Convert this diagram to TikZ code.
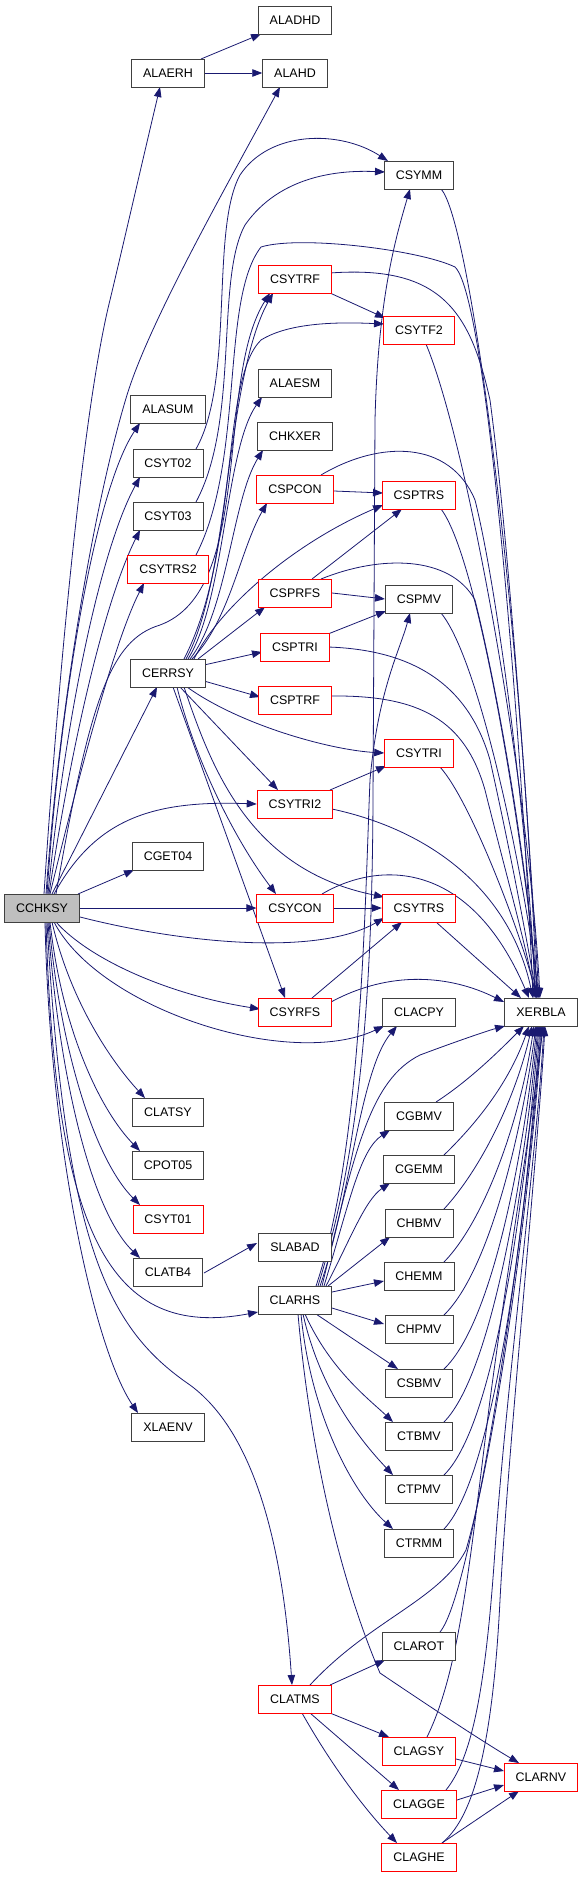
\documentclass[tikz,border=0pt]{standalone}
\usepackage{fontspec}
\setmainfont{Liberation Sans}
\usetikzlibrary{arrows.meta,calc}
\pgfdeclarelayer{bg}
\pgfsetlayers{bg,main}
\definecolor{edgec}{HTML}{191970}
\definecolor{boxc}{HTML}{404040}
\definecolor{grayf}{HTML}{BFBFBF}
\tikzset{
  box/.style={draw=boxc, line width=0.9bp, fill=white, minimum height=28bp, inner xsep=11.5bp, inner ysep=0pt, font=\fontsize{12.5}{14}\selectfont},
  rbox/.style={box, draw=red},
  e/.style={draw=edgec, line width=0.8bp, -{Triangle[length=10bp,width=7.5bp]}}
}
\begin{document}
\begin{tikzpicture}[x=1bp,y=-1bp]
\useasboundingbox (0,0) rectangle (584,1877);
% nodes
\node[box] (ALADHD) at (295,20) {ALADHD};
\node[box] (ALAERH) at (168,73) {ALAERH};
\node[box] (ALAHD) at (295,73) {ALAHD};
\node[box] (CSYMM) at (419,175) {CSYMM};
\node[rbox] (CSYTRF) at (295,279) {CSYTRF};
\node[rbox] (CSYTF2) at (419,330) {CSYTF2};
\node[box] (ALAESM) at (295,383) {ALAESM};
\node[box] (ALASUM) at (168,409) {ALASUM};
\node[box] (CHKXER) at (295,436) {CHKXER};
\node[box] (CSYT02) at (168,463) {CSYT02};
\node[rbox] (CSPCON) at (295,489) {CSPCON};
\node[rbox] (CSPTRS) at (419,495) {CSPTRS};
\node[box] (CSYT03) at (168,516) {CSYT03};
\node[rbox] (CSYTRS2) at (168,569) {CSYTRS2};
\node[rbox] (CSPRFS) at (295,593) {CSPRFS};
\node[box] (CSPMV) at (419,599) {CSPMV};
\node[rbox] (CSPTRI) at (295,647) {CSPTRI};
\node[box] (CERRSY) at (168,673) {CERRSY};
\node[rbox] (CSPTRF) at (295,700) {CSPTRF};
\node[rbox] (CSYTRI) at (419,753) {CSYTRI};
\node[rbox] (CSYTRI2) at (295,804) {CSYTRI2};
\node[box] (CGET04) at (168,856) {CGET04};
\node[box, fill=grayf] (CCHKSY) at (42,908) {CCHKSY};
\node[rbox] (CSYCON) at (295,908) {CSYCON};
\node[rbox] (CSYTRS) at (419,908) {CSYTRS};
\node[rbox] (CSYRFS) at (295,1012) {CSYRFS};
\node[box] (CLACPY) at (419,1012) {CLACPY};
\node[box] (XERBLA) at (541,1012) {XERBLA};
\node[box] (CLATSY) at (168,1112) {CLATSY};
\node[box] (CGBMV) at (419,1116) {CGBMV};
\node[box] (CPOT05) at (168,1165) {CPOT05};
\node[box] (CGEMM) at (419,1169) {CGEMM};
\node[rbox] (CSYT01) at (168,1219) {CSYT01};
\node[box] (CHBMV) at (419,1223) {CHBMV};
\node[box] (SLABAD) at (295,1247) {SLABAD};
\node[box] (CLATB4) at (168,1272) {CLATB4};
\node[box] (CHEMM) at (419,1276) {CHEMM};
\node[box] (CLARHS) at (295,1300) {CLARHS};
\node[box] (CHPMV) at (419,1329) {CHPMV};
\node[box] (CSBMV) at (419,1383) {CSBMV};
\node[box] (XLAENV) at (168,1427) {XLAENV};
\node[box] (CTBMV) at (419,1436) {CTBMV};
\node[box] (CTPMV) at (419,1489) {CTPMV};
\node[box] (CTRMM) at (419,1543) {CTRMM};
\node[box] (CLAROT) at (419,1646) {CLAROT};
\node[rbox] (CLATMS) at (295,1699) {CLATMS};
\node[rbox] (CLAGSY) at (419,1751) {CLAGSY};
\node[rbox] (CLARNV) at (541,1777) {CLARNV};
\node[rbox] (CLAGGE) at (419,1804) {CLAGGE};
\node[rbox] (CLAGHE) at (419,1857) {CLAGHE};
\begin{pgfonlayer}{bg}
% CCHKSY edges
\draw[e] ($(CCHKSY)+(2,-14)$) .. controls (60,650) and (85,400) .. (110,300) .. controls (122,250) and (145,150) .. ($(ALAERH)+(-8,14)$);
\draw[e] ($(CCHKSY)+(4,-14)$) .. controls (60,700) and (95,500) .. (127,395) .. controls (150,320) and (230,180) .. ($(ALAHD)+(-15,14)$);
\draw[e] ($(CCHKSY)+(5,-14)$) .. controls (60,700) and (95,490) .. ($(ALASUM)+(-28,14)$);
\draw[e] ($(CCHKSY)+(6,-14)$) .. controls (65,720) and (100,550) .. ($(CSYT02)+(-28,14)$);
\draw[e] ($(CCHKSY)+(7,-14)$) .. controls (72,740) and (105,600) .. ($(CSYT03)+(-28,14)$);
\draw[e] ($(CCHKSY)+(8,-14)$) .. controls (80,770) and (115,640) .. ($(CSYTRS2)+(-24,14)$);
\draw[e] ($(CCHKSY)+(10,-14)$) -- ($(CERRSY)+(-11,14)$);
\draw[e] ($(CCHKSY)+(36,-14)$) -- ($(CGET04)+(-34,14)$);
\draw[e] ($(CCHKSY)+(12,-14)$) .. controls (95,820) and (150,800) .. (CSYTRI2.west);
\draw[e] (CCHKSY.east) -- (CSYCON.west);
\draw[e] ($(CCHKSY)+(38,9)$) .. controls (190,945) and (320,955) .. ($(CSYTRS)+(-35,10)$);
\draw[e] ($(CCHKSY)+(14,14)$) .. controls (90,960) and (170,995) .. ($(CSYRFS)+(-35,-3)$);
\draw[e] ($(CCHKSY)+(12,14)$) .. controls (100,1010) and (290,1070) .. ($(CLACPY)+(-35,14)$);
\draw[e] ($(CCHKSY)+(10,14)$) .. controls (70,1000) and (110,1060) .. ($(CLATSY)+(-23,-14)$);
\draw[e] ($(CCHKSY)+(8,14)$) .. controls (62,1030) and (100,1110) .. ($(CPOT05)+(-28,-14)$);
\draw[e] ($(CCHKSY)+(7,14)$) .. controls (60,1050) and (95,1160) .. ($(CSYT01)+(-28,-14)$);
\draw[e] ($(CCHKSY)+(6,14)$) .. controls (58,1070) and (90,1210) .. ($(CLATB4)+(-28,-14)$);
\draw[e] ($(CCHKSY)+(4,14)$) .. controls (55,1235) and (110,1340) .. ($(CLARHS)+(-37,12)$);
\draw[e] ($(CCHKSY)+(3,14)$) .. controls (50,1150) and (95,1350) .. ($(XLAENV)+(-30,-14)$);
\draw[e] ($(CCHKSY)+(5,14)$) .. controls (65,1250) and (110,1330) .. (190,1385) .. controls (265,1440) and (285,1580) .. ($(CLATMS)+(-3,-14)$);
\draw[e] ($(CCHKSY)+(14,-14)$) .. controls (90,700) and (110,640) .. (160,625) .. controls (255,590) and (215,380) .. ($(CSYTRF)+(-25,14)$);
% ALAERH
\draw[e] ($(ALAERH)+(33,-14)$) -- ($(ALADHD)+(-34,14)$);
\draw[e] (ALAERH.east) -- (ALAHD.west);
% CSYT02, CSYT03, CSYTRS2
\draw[e] ($(CSYT02)+(28,-14)$) .. controls (235,380) and (210,230) .. (240,175) .. controls (270,130) and (340,130) .. ($(CSYMM)+(-31,-14)$);
\draw[e] ($(CSYT03)+(28,-14)$) .. controls (240,420) and (215,280) .. (245,225) .. controls (280,175) and (340,170) .. ($(CSYMM)+(-34,-3)$);
\draw[e] ($(CSYTRS2)+(28,-14)$) .. controls (245,460) and (220,300) .. (261,247) .. controls (300,235) and (420,250) .. (455,267) .. controls (490,300) and (525,800) .. ($(XERBLA)+(-8,-14)$);
% CSYMM, CSYTRF, CSYTF2
\draw[e] ($(CSYMM)+(22,14)$) .. controls (470,220) and (520,600) .. ($(XERBLA)+(-4,-14)$);
\draw[e] ($(CSYTRF)+(35,14)$) -- ($(CSYTF2)+(-34,-12)$);
\draw[e] ($(CSYTRF)+(35,-6)$) .. controls (440,265) and (470,310) .. (490,400) .. controls (510,550) and (530,850) .. ($(XERBLA)+(-2,-14)$);
\draw[e] ($(CSYTF2)+(7,14)$) .. controls (470,450) and (530,800) .. ($(XERBLA)+(-1,-14)$);
% CERRSY edges
\draw[e] ($(CERRSY)+(20,-14)$) .. controls (225,600) and (225,450) .. ($(ALAESM)+(-33,14)$);
\draw[e] ($(CERRSY)+(22,-14)$) .. controls (228,610) and (232,500) .. ($(CHKXER)+(-32,14)$);
\draw[e] ($(CERRSY)+(24,-14)$) .. controls (230,620) and (240,550) .. ($(CSPCON)+(-28,14)$);
\draw[e] ($(CERRSY)+(26,-14)$) .. controls (218,610) and (290,545) .. ($(CSPTRS)+(-36,10)$);
\draw[e] ($(CERRSY)+(30,-14)$) -- ($(CSPRFS)+(-30,14)$);
\draw[e] ($(CERRSY)+(36,-8)$) -- ($(CSPTRI)+(-33,5)$);
\draw[e] ($(CERRSY)+(36,8)$) -- ($(CSPTRF)+(-35,-3)$);
\draw[e] ($(CERRSY)+(19,14)$) .. controls (240,725) and (330,750) .. (CSYTRI.west);
\draw[e] ($(CERRSY)+(12,14)$) -- ($(CSYTRI2)+(-17,-14)$);
\draw[e] ($(CERRSY)+(9,14)$) .. controls (195,760) and (235,840) .. ($(CSYCON)+(-19,-14)$);
\draw[e] ($(CERRSY)+(16,14)$) .. controls (212,770) and (250,870) .. ($(CSYTRS)+(-35,-11)$);
\draw[e] ($(CERRSY)+(5,14)$) -- ($(CSYRFS)+(-10,-14)$);
\draw[e] ($(CERRSY)+(18,-14)$) .. controls (230,580) and (225,380) .. ($(CSYTRF)+(-22,14)$);
\draw[e] ($(CERRSY)+(16,-14)$) .. controls (240,550) and (220,380) .. (261,340) .. controls (290,322) and (340,322) .. ($(CSYTF2)+(-35,-6)$);
% CSP* edges
\draw[e] ($(CSPCON)+(39,2)$) -- ($(CSPTRS)+(-36,-2)$);
\draw[e] ($(CSPCON)+(26,-14)$) .. controls (380,440) and (450,440) .. (475,500) .. controls (500,600) and (530,850) .. ($(XERBLA)+(-6,-14)$);
\draw[e] ($(CSPTRS)+(22,14)$) .. controls (480,560) and (525,850) .. ($(XERBLA)+(-3,-14)$);
\draw[e] ($(CSPRFS)+(17,-14)$) -- ($(CSPTRS)+(-17,14)$);
\draw[e] (CSPRFS.east) -- (CSPMV.west);
\draw[e] ($(CSPRFS)+(26,-14)$) .. controls (380,555) and (450,555) .. (475,600) .. controls (500,700) and (530,880) .. ($(XERBLA)+(-5,-14)$);
\draw[e] ($(CSPMV)+(22,14)$) .. controls (480,660) and (525,880) .. ($(XERBLA)+(-2,-14)$);
\draw[e] ($(CSPTRI)+(33,-13)$) -- ($(CSPMV)+(-33,12)$);
\draw[e] ($(CSPTRI)+(33,0)$) .. controls (420,650) and (470,690) .. (490,760) .. controls (510,850) and (525,930) .. ($(XERBLA)+(-4,-14)$);
\draw[e] ($(CSPTRF)+(36,-4)$) .. controls (420,695) and (465,720) .. (485,790) .. controls (505,870) and (522,930) .. ($(XERBLA)+(-5,-14)$);
% CSY* edges
\draw[e] ($(CSYTRI)+(21,14)$) .. controls (470,800) and (520,930) .. ($(XERBLA)+(-4,-14)$);
\draw[e] ($(CSYTRI2)+(35,-14)$) -- ($(CSYTRI)+(-33,13)$);
\draw[e] ($(CSYTRI2)+(37,5)$) .. controls (430,830) and (510,890) .. ($(XERBLA)+(-8,-14)$);
\draw[e] (CSYCON.east) -- (CSYTRS.west);
\draw[e] ($(CSYCON)+(27,-14)$) .. controls (380,860) and (470,860) .. ($(XERBLA)+(-12,-14)$);
\draw[e] ($(CSYTRS)+(17,14)$) -- ($(XERBLA)+(-20,-14)$);
\draw[e] ($(CSYRFS)+(17,-14)$) -- ($(CSYTRS)+(-17,14)$);
\draw[e] ($(CSYRFS)+(36,-10)$) .. controls (390,970) and (450,975) .. ($(XERBLA)+(-37,-10)$);
% CLARHS edges
\draw[e] ($(CLARHS)+(23,-14)$) .. controls (360,1150) and (372,1000) .. (373,800) -- (375,420) .. controls (378,300) and (395,240) .. ($(CSYMM)+(-9,14)$);
\draw[e] ($(CLARHS)+(21,-14)$) .. controls (362,1150) and (365,900) .. (370,780) .. controls (378,690) and (400,650) .. ($(CSPMV)+(-9,14)$);
\draw[e] ($(CLARHS)+(25,-14)$) .. controls (350,1200) and (360,1070) .. ($(CLACPY)+(-22,14)$);
\draw[e] ($(CLARHS)+(27,-14)$) .. controls (355,1150) and (370,1080) .. (420,1055) .. controls (460,1040) and (490,1030) .. ($(XERBLA)+(-36,14)$);
\draw[e] ($(CLARHS)+(29,-14)$) .. controls (350,1200) and (360,1150) .. ($(CGBMV)+(-29,14)$);
\draw[e] ($(CLARHS)+(31,-14)$) .. controls (350,1240) and (365,1200) .. ($(CGEMM)+(-29,14)$);
\draw[e] ($(CLARHS)+(33,-14)$) -- ($(CHBMV)+(-29,14)$);
\draw[e] ($(CLARHS)+(37,-8)$) -- ($(CHEMM)+(-35,5)$);
\draw[e] ($(CLARHS)+(37,8)$) -- ($(CHPMV)+(-35,-5)$);
\draw[e] ($(CLARHS)+(21,14)$) -- ($(CSBMV)+(-21,-14)$);
\draw[e] ($(CLARHS)+(10,14)$) .. controls (330,1370) and (370,1400) .. ($(CTBMV)+(-26,-14)$);
\draw[e] ($(CLARHS)+(8,14)$) .. controls (320,1390) and (360,1440) .. ($(CTPMV)+(-26,-14)$);
\draw[e] ($(CLARHS)+(6,14)$) .. controls (310,1410) and (350,1490) .. ($(CTRMM)+(-26,-14)$);
\draw[e] ($(CLARHS)+(3,14)$) .. controls (310,1450) and (340,1580) .. (380,1673) .. controls (420,1700) and (480,1740) .. ($(CLARNV)+(-22,-14)$);
% to XERBLA from below
\draw[e] ($(CGBMV)+(17,-14)$) .. controls (470,1080) and (500,1050) .. ($(XERBLA)+(-17,14)$);
\draw[e] ($(CGEMM)+(25,-14)$) .. controls (480,1120) and (510,1080) .. ($(XERBLA)+(-12,14)$);
\draw[e] ($(CHBMV)+(25,-14)$) .. controls (480,1170) and (515,1100) .. ($(XERBLA)+(-9,14)$);
\draw[e] ($(CHEMM)+(25,-14)$) .. controls (485,1220) and (520,1120) .. ($(XERBLA)+(-7,14)$);
\draw[e] ($(CHPMV)+(25,-14)$) .. controls (490,1270) and (522,1130) .. ($(XERBLA)+(-5,14)$);
\draw[e] ($(CSBMV)+(25,-14)$) .. controls (495,1320) and (525,1140) .. ($(XERBLA)+(-4,14)$);
\draw[e] ($(CTBMV)+(25,-14)$) .. controls (495,1370) and (527,1150) .. ($(XERBLA)+(-3,14)$);
\draw[e] ($(CTPMV)+(25,-14)$) .. controls (500,1420) and (528,1160) .. ($(XERBLA)+(-2,14)$);
\draw[e] ($(CTRMM)+(25,-14)$) .. controls (500,1470) and (530,1170) .. ($(XERBLA)+(-1,14)$);
\draw[e] ($(CLAROT)+(21,-14)$) .. controls (475,1590) and (530,1200) .. ($(XERBLA)+(0,14)$);
\draw[e] ($(CLATMS)+(15,-14)$) .. controls (370,1620) and (440,1600) .. (466,1550) .. controls (495,1450) and (530,1200) .. ($(XERBLA)+(1,14)$);
\draw[e] ($(CLAGSY)+(8,-14)$) .. controls (460,1670) and (470,1560) .. (490,1400) .. controls (510,1250) and (535,1100) .. ($(XERBLA)+(2,14)$);
\draw[e] ($(CLAGGE)+(27,-14)$) .. controls (470,1760) and (485,1700) .. (495,1550) .. controls (505,1400) and (537,1150) .. ($(XERBLA)+(3,14)$);
\draw[e] ($(CLAGHE)+(23,-14)$) .. controls (470,1820) and (492,1760) .. (500,1600) .. controls (508,1450) and (538,1150) .. ($(XERBLA)+(4,14)$);
% CLATMS and others
\draw[e] ($(CLATMS)+(35,-14)$) -- ($(CLAROT)+(-34,14)$);
\draw[e] ($(CLATMS)+(35,14)$) -- ($(CLAGSY)+(-30,-14)$);
\draw[e] ($(CLATMS)+(15,14)$) -- ($(CLAGGE)+(-20,-14)$);
\draw[e] ($(CLATMS)+(7,14)$) .. controls (340,1780) and (375,1820) .. ($(CLAGHE)+(-22,-14)$);
\draw[e] ($(CLAGSY)+(37,8)$) -- ($(CLARNV)+(-37,-6)$);
\draw[e] ($(CLAGGE)+(38,-4)$) -- ($(CLARNV)+(-37,8)$);
\draw[e] ($(CLAGHE)+(23,-14)$) -- ($(CLARNV)+(-22,14)$);
\draw[e] ($(CLATB4)+(36,1)$) -- ($(SLABAD)+(-38,-4)$);
\end{pgfonlayer}
\end{tikzpicture}
\end{document}
